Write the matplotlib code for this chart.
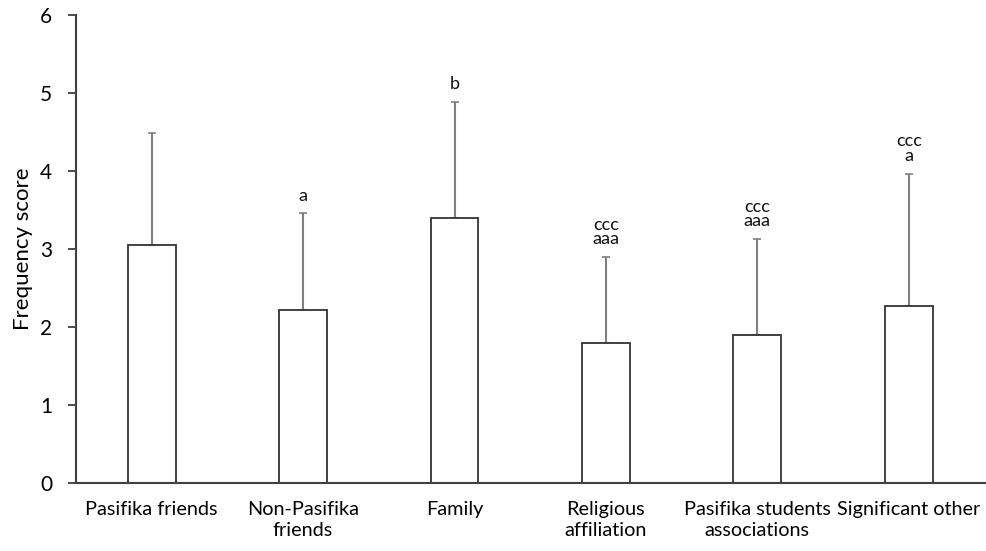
import numpy as np
import matplotlib.pyplot as plt

kategorie = ['Pasifika friends', 'Non-Pasifika\nfriends', 'Family', 'Religious\naffiliation',
             'Pasifika students\nassociations', 'Significant other']
srednie = [3.06, 2.22, 3.40, 1.80, 1.90, 2.27]
odchylenia = [1.43, 1.24, 1.49, 1.10, 1.23, 1.70]
oznaczenia = ['', 'a', 'b', 'ccc\naaa', 'ccc\naaa', 'ccc\na']

plt.rcParams['font.family'] = ['Lato', 'DejaVu Sans']

fig = plt.figure(figsize=(9.87, 5.51), dpi=100)
ax = fig.add_axes([0.077, 0.1234, 0.925, 0.8486])

x = np.arange(len(kategorie))
ax.bar(x, srednie, width=0.315, color='white', edgecolor='#333333', linewidth=1.3, zorder=2)
ax.errorbar(x, srednie, yerr=[np.zeros(len(x)), odchylenia], fmt='none', ecolor='#7f7f7f',
            elinewidth=1.5, capsize=3, capthick=1.2, zorder=1)

for xi, m, s, t in zip(x, srednie, odchylenia, oznaczenia):
    if t:
        ax.annotate(t, (xi, m + s), xytext=(0, 7), textcoords='offset points',
                    ha='center', va='bottom', fontsize=13, linespacing=0.9, color='#111111')

ax.set_xlim(-0.5, 5.53)
ax.set_ylim(0, 6)
ax.set_yticks(range(7))
ax.set_xticks(x)
ax.set_xticklabels(kategorie, fontsize=14.3, linespacing=1.3)
ax.tick_params(axis='x', length=0, pad=13)
ax.tick_params(axis='y', length=6, width=1.3, color='#404040', labelsize=15, pad=11)
ax.set_ylabel('Frequency score', fontsize=16, labelpad=5)
for s in ['top', 'right']:
    ax.spines[s].set_visible(False)
for s in ['left', 'bottom']:
    ax.spines[s].set_color('#404040')
    ax.spines[s].set_linewidth(1.5)

plt.savefig('out.png', dpi=100)
